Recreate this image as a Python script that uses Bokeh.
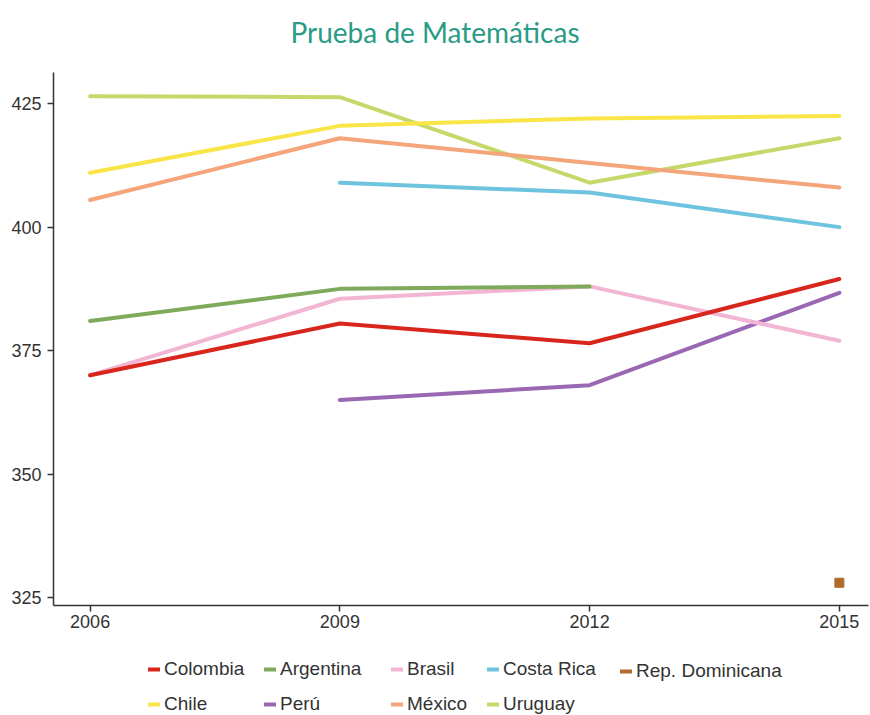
from bokeh.plotting import figure
from bokeh.layouts import column
from bokeh.models import Legend, LegendItem, FixedTicker, Div
from bokeh.embed import file_html
from bokeh.resources import INLINE

nan = float("nan")

years = [2006, 2009, 2012, 2015]

colombia = [370, 380.5, 376.5, 389.5]
argentina = [381, 387.5, 388, nan]
brasil = [370, 385.5, 388, 377]
costa_rica = [nan, 409, 407, 400]
rep_dominicana = [nan, nan, nan, 328]
chile = [411, 420.5, 422, 422.5]
peru = [nan, 365, 368, 386.7]
mexico = [405.5, 418, 413, 408]
uruguay = [426.5, 426.3, 409, 418]

y_ticks = [325, 350, 375, 400, 425]

series = [
    ("Colombia", colombia, "#d8261c"),
    ("Argentina", argentina, "#7fa95b"),
    ("Brasil", brasil, "#f2b6d4"),
    ("Costa Rica", costa_rica, "#6ec3df"),
    ("Rep. Dominicana", rep_dominicana, "#b0692e"),
    ("Chile", chile, "#f9e547"),
    ("Perú", peru, "#9a68b3"),
    ("México", mexico, "#f4a57a"),
    ("Uruguay", uruguay, "#c5d96b"),
]

LEFT = 53  # width of the left border, shared by the stacked figures

# legend columns and the page x position (px) of each column's glyph
legend_columns = [
    (["Colombia", "Chile"], 146),
    (["Argentina", "Perú"], 262),
    (["Brasil", "México"], 389),
    (["Costa Rica", "Uruguay"], 485),
    (["Rep. Dominicana"], 618),
]

title = Div(text="Prueba de Matemáticas", width=870, height=72, margin=0,
            styles={"font-family": "Lato", "font-size": "28px",
                    "color": "#2a9b86", "text-align": "center",
                    "line-height": "64px", "width": "870px"})

p = figure(
    width=870, height=568,
    x_range=(2005.56, 2015.35), y_range=(323.4, 431.3),
    output_backend="svg", toolbar_location=None,
    min_border_left=LEFT, min_border_right=2, min_border_top=0,
    min_border_bottom=35,
)

p.outline_line_color = None
p.xgrid.visible = False
p.ygrid.visible = False
p.background_fill_color = "white"

for ax in (p.xaxis[0], p.yaxis[0]):
    ax.axis_line_color = "#333333"
    ax.axis_line_width = 1.5
    ax.major_tick_line_color = "#333333"
    ax.major_tick_line_width = 1.5
    ax.major_tick_out = 6
    ax.major_tick_in = 0
    ax.minor_tick_line_color = None
    ax.major_label_text_font = "Liberation Sans"
    ax.major_label_text_font_size = "18px"
    ax.major_label_text_color = "#333333"

p.xaxis.ticker = FixedTicker(ticks=years)
p.yaxis.ticker = FixedTicker(ticks=y_ticks)
p.xaxis.major_label_standoff = 3
p.yaxis.major_label_standoff = 6

for name, vals, color in reversed(series):
    p.line(years, vals, line_color=color, line_width=4,
           line_cap="round", line_join="round")
    if name == "Rep. Dominicana":
        p.scatter(years, vals, marker="square", size=9,
                  fill_color=color, line_color=color)

# legend strip under the chart
lg = figure(width=870, height=75, output_backend="svg",
            toolbar_location=None, x_axis_type=None, y_axis_type=None,
            min_border_left=LEFT, min_border_right=2, min_border_top=0,
            min_border_bottom=0, x_range=(0, 1), y_range=(0, 1))
lg.outline_line_color = None
lg.xgrid.visible = False
lg.ygrid.visible = False

# key renderers sit outside the visible range; only their legend glyphs show
keys = {}
for name, vals, color in series:
    keys[name] = lg.line([-5, -4], [-5, -4], line_color=color, line_width=4,
                         line_cap="round")

for names, x_pos in legend_columns:
    items = [LegendItem(label=n, renderers=[keys[n]]) for n in names]
    height = len(names) * 20 + (len(names) - 1) * 13
    legend = Legend(items=items, orientation="vertical",
                    location=(x_pos + 2 - LEFT, 53 - height),
                    border_line_color=None, background_fill_alpha=0,
                    label_text_font="Liberation Sans",
                    label_text_font_size="19px", label_text_color="#333333",
                    glyph_width=12, glyph_height=20, label_standoff=4,
                    spacing=13, padding=0, margin=0, label_height=20)
    lg.add_layout(legend, "center")

open("out.html", "w").write(file_html(column(title, p, lg, spacing=0), INLINE))
